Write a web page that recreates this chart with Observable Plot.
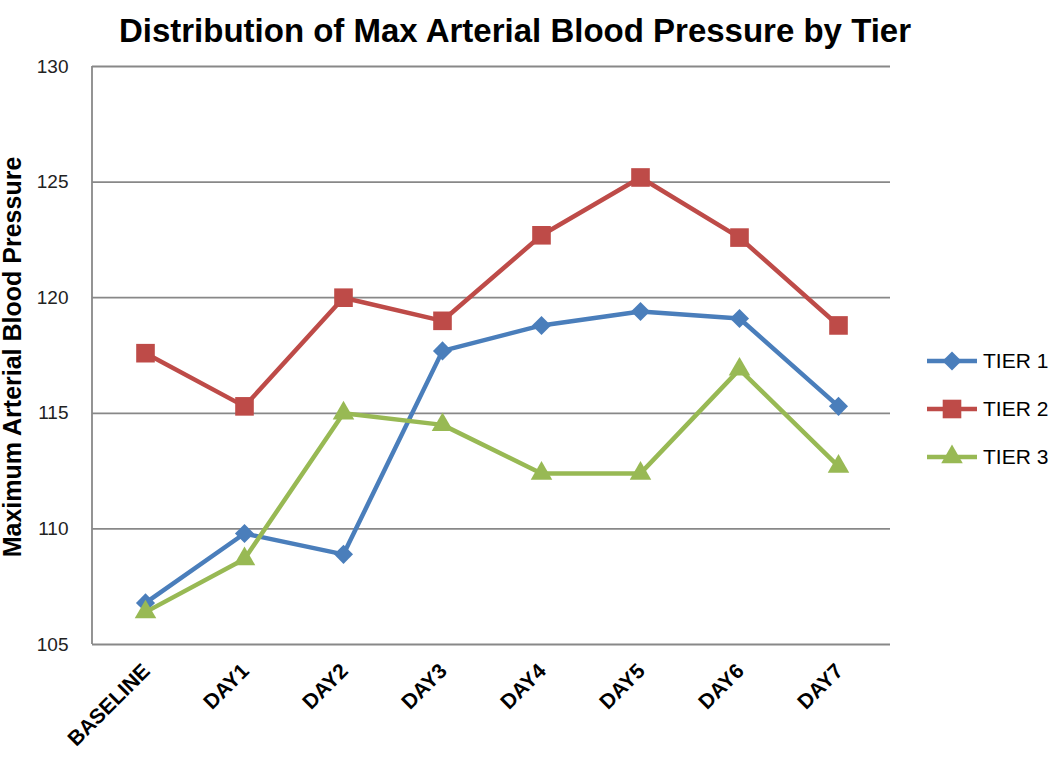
<!DOCTYPE html>
<html><head><meta charset="utf-8">
<script src="https://cdn.jsdelivr.net/npm/d3@7"></script>
<script src="https://cdn.jsdelivr.net/npm/@observablehq/plot@0.6"></script>
<style>
body{margin:0;background:#fff;}
#wrap{position:relative;width:1050px;height:758px;font-family:"Liberation Sans",Arial,sans-serif;}
#title{position:absolute;top:12px;left:0;width:1030px;text-align:center;font-weight:bold;font-size:33px;color:#000;z-index:2;}
#legend{position:absolute;left:925px;top:337px;z-index:2;}
.row{display:flex;align-items:center;height:48px;font-size:21px;color:#000;}
.row svg{margin-right:4px;}
</style></head>
<body><div id="wrap"><div id="title">Distribution of Max Arterial Blood Pressure by Tier</div><div id="legend"></div></div>
<script>
const categories = ["BASELINE","DAY1","DAY2","DAY3","DAY4","DAY5","DAY6","DAY7"];
const tier1 = [106.8,109.8,108.9,117.7,118.8,119.4,119.1,115.3];
const tier2 = [117.6,115.3,120.0,119.0,122.7,125.2,122.6,118.8];
const tier3 = [106.4,108.7,115.0,114.5,112.4,112.4,116.9,112.7];
const seriesNames = ["TIER 1","TIER 2","TIER 3"];
const seriesColors = ["#4a7ebb","#be4b48","#98b954"];
const seriesSymbols = ["diamond2","square","triangle"];
const seriesR = [8.6,10.5,8.0];
const yTicks = [105,110,115,120,125,130];

const seriesValues = [tier1,tier2,tier3];
const data = [];
seriesNames.forEach((s,i)=>categories.forEach((c,j)=>data.push({series:s,day:c,value:seriesValues[i][j]})));

const marks = [
  Plot.gridY(yTicks,{stroke:"#888",strokeOpacity:1,strokeWidth:1.8}),
  Plot.axisY(yTicks,{tickSize:0,tickPadding:24,fontSize:19,fill:"#222",label:null}),
  Plot.axisX({tickRotate:-45,tickSize:0,tickPadding:21,dx:1,dy:2,fontSize:21,fontWeight:"bold",fill:"#000",label:null})
];
seriesNames.forEach((s,i)=>{
  const d = data.filter(r=>r.series===s);
  marks.push(Plot.line(d,{x:"day",y:"value",stroke:seriesColors[i],strokeWidth:4.5}));
  marks.push(Plot.dot(d,{x:"day",y:"value",symbol:()=>seriesSymbols[i],fill:seriesColors[i],r:seriesR[i],stroke:"none"}));
});

const chart = Plot.plot({
  width:1050,height:758,
  marginLeft:92,marginRight:160,marginTop:66,marginBottom:114,
  style:{background:"#fff",fontFamily:"Liberation Sans, Arial, sans-serif",overflow:"visible"},
  x:{type:"point",domain:categories,padding:0.5},
  y:{domain:[105,130]},
  symbol:{type:"identity"},
  marks
});
d3.select(chart).append("line")
  .attr("x1",92).attr("x2",92).attr("y1",66).attr("y2",644)
  .attr("stroke","#888").attr("stroke-width",1.8);
d3.select(chart).append("text")
  .attr("transform","translate(21,357) rotate(-90)")
  .attr("text-anchor","middle")
  .attr("font-weight","bold").attr("font-size",25)
  .attr("font-family","Liberation Sans, Arial, sans-serif")
  .text("Maximum Arterial Blood Pressure");
document.getElementById("wrap").appendChild(chart);
chart.style.position="absolute";chart.style.left="0";chart.style.top="0";

const legend = document.getElementById("legend");
seriesNames.forEach((s,i)=>{
  const row=document.createElement("div");row.className="row";
  const sym = d3.symbol(i===0?d3.symbolDiamond2:i===1?d3.symbolSquare:d3.symbolTriangle, Math.PI*seriesR[i]*seriesR[i])();
  row.innerHTML=`<svg width="54" height="24" style="overflow:visible"><line x1="2" x2="52" y1="12" y2="12" stroke="${seriesColors[i]}" stroke-width="4.5"/><path transform="translate(27,12)" d="${sym}" fill="${seriesColors[i]}"/></svg><span>${s}</span>`;
  legend.appendChild(row);
});
</script></body></html>
